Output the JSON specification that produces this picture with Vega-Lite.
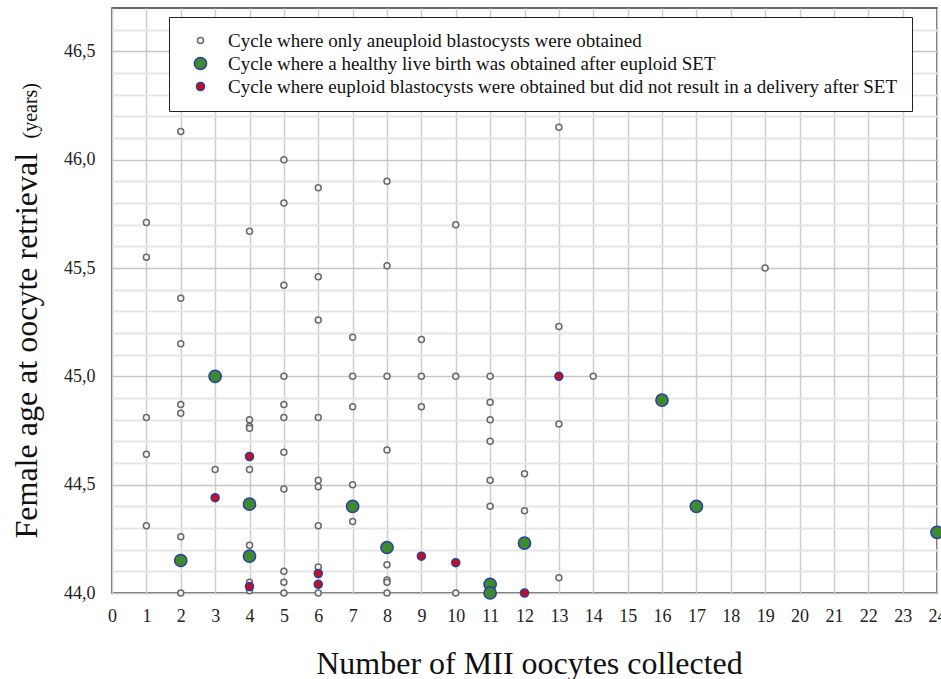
{
  "$schema": "https://vega.github.io/schema/vega-lite/v6.json",
  "width": 825,
  "height": 585,
  "autosize": {"type": "none"},
  "padding": {"left": 112, "top": 8, "right": 4, "bottom": 86},
  "background": "white",
  "config": {
    "view": {"stroke": "#3a3a3a", "strokeWidth": 1.5, "fill": "white"},
    "font": "Liberation Serif"
  },
  "data": {
    "values": [
      {"n": 1, "age": 45.71, "c": "A"}, {"n": 1, "age": 45.55, "c": "A"}, {"n": 1, "age": 44.81, "c": "A"}, {"n": 1, "age": 44.64, "c": "A"}, {"n": 1, "age": 44.31, "c": "A"},
      {"n": 2, "age": 46.13, "c": "A"}, {"n": 2, "age": 45.36, "c": "A"}, {"n": 2, "age": 45.15, "c": "A"}, {"n": 2, "age": 44.87, "c": "A"}, {"n": 2, "age": 44.83, "c": "A"}, {"n": 2, "age": 44.26, "c": "A"}, {"n": 2, "age": 44.0, "c": "A"},
      {"n": 3, "age": 44.57, "c": "A"},
      {"n": 4, "age": 45.67, "c": "A"}, {"n": 4, "age": 44.8, "c": "A"}, {"n": 4, "age": 44.77, "c": "A"}, {"n": 4, "age": 44.76, "c": "A"}, {"n": 4, "age": 44.57, "c": "A"}, {"n": 4, "age": 44.22, "c": "A"}, {"n": 4, "age": 44.05, "c": "A"}, {"n": 4, "age": 44.01, "c": "A"},
      {"n": 5, "age": 46.0, "c": "A"}, {"n": 5, "age": 45.8, "c": "A"}, {"n": 5, "age": 45.42, "c": "A"}, {"n": 5, "age": 45.0, "c": "A"}, {"n": 5, "age": 44.87, "c": "A"}, {"n": 5, "age": 44.81, "c": "A"}, {"n": 5, "age": 44.65, "c": "A"}, {"n": 5, "age": 44.48, "c": "A"}, {"n": 5, "age": 44.1, "c": "A"}, {"n": 5, "age": 44.05, "c": "A"}, {"n": 5, "age": 44.0, "c": "A"},
      {"n": 6, "age": 45.87, "c": "A"}, {"n": 6, "age": 45.46, "c": "A"}, {"n": 6, "age": 45.26, "c": "A"}, {"n": 6, "age": 44.81, "c": "A"}, {"n": 6, "age": 44.52, "c": "A"}, {"n": 6, "age": 44.49, "c": "A"}, {"n": 6, "age": 44.31, "c": "A"}, {"n": 6, "age": 44.12, "c": "A"}, {"n": 6, "age": 44.0, "c": "A"},
      {"n": 7, "age": 45.18, "c": "A"}, {"n": 7, "age": 45.0, "c": "A"}, {"n": 7, "age": 44.86, "c": "A"}, {"n": 7, "age": 44.5, "c": "A"}, {"n": 7, "age": 44.33, "c": "A"},
      {"n": 8, "age": 45.9, "c": "A"}, {"n": 8, "age": 45.51, "c": "A"}, {"n": 8, "age": 45.0, "c": "A"}, {"n": 8, "age": 44.66, "c": "A"}, {"n": 8, "age": 44.13, "c": "A"}, {"n": 8, "age": 44.06, "c": "A"}, {"n": 8, "age": 44.05, "c": "A"}, {"n": 8, "age": 44.0, "c": "A"},
      {"n": 9, "age": 45.17, "c": "A"}, {"n": 9, "age": 45.0, "c": "A"}, {"n": 9, "age": 44.86, "c": "A"},
      {"n": 10, "age": 45.7, "c": "A"}, {"n": 10, "age": 45.0, "c": "A"}, {"n": 10, "age": 44.0, "c": "A"},
      {"n": 11, "age": 45.0, "c": "A"}, {"n": 11, "age": 44.88, "c": "A"}, {"n": 11, "age": 44.8, "c": "A"}, {"n": 11, "age": 44.7, "c": "A"}, {"n": 11, "age": 44.52, "c": "A"}, {"n": 11, "age": 44.4, "c": "A"},
      {"n": 12, "age": 44.55, "c": "A"}, {"n": 12, "age": 44.38, "c": "A"},
      {"n": 13, "age": 46.15, "c": "A"}, {"n": 13, "age": 45.23, "c": "A"}, {"n": 13, "age": 44.78, "c": "A"}, {"n": 13, "age": 44.07, "c": "A"},
      {"n": 14, "age": 45.0, "c": "A"},
      {"n": 19, "age": 45.5, "c": "A"},
      {"n": 2, "age": 44.15, "c": "G"}, {"n": 3, "age": 45.0, "c": "G"}, {"n": 4, "age": 44.41, "c": "G"}, {"n": 4, "age": 44.17, "c": "G"}, {"n": 7, "age": 44.4, "c": "G"}, {"n": 8, "age": 44.21, "c": "G"}, {"n": 11, "age": 44.04, "c": "G"}, {"n": 11, "age": 44.0, "c": "G"}, {"n": 12, "age": 44.23, "c": "G"}, {"n": 16, "age": 44.89, "c": "G"}, {"n": 17, "age": 44.4, "c": "G"}, {"n": 24, "age": 44.28, "c": "G"},
      {"n": 3, "age": 44.44, "c": "R"}, {"n": 4, "age": 44.63, "c": "R"}, {"n": 4, "age": 44.03, "c": "R"}, {"n": 6, "age": 44.09, "c": "R"}, {"n": 6, "age": 44.04, "c": "R"}, {"n": 9, "age": 44.17, "c": "R"}, {"n": 10, "age": 44.14, "c": "R"}, {"n": 12, "age": 44.0, "c": "R"}, {"n": 13, "age": 45.0, "c": "R"}
    ]
  },
  "layer": [
    {
      "mark": {"type": "point", "opacity": 0},
      "encoding": {
        "x": {
          "field": "n", "type": "quantitative",
          "scale": {"domain": [0, 24], "nice": false, "zero": false},
          "axis": {
            "orient": "bottom",
            "values": [0,1,2,3,4,5,6,7,8,9,10,11,12,13,14,15,16,17,18,19,20,21,22,23,24],
            "grid": true, "gridColor": "#cdcdcd", "gridWidth": 1.5,
            "ticks": false, "domain": false,
            "labelFont": "Liberation Serif", "labelFontSize": 18, "labelColor": "#222",
            "labelPadding": 14, "labelFlush": false, "labelOverlap": false,
            "title": "Number of MII oocytes collected",
            "titleFont": "Liberation Serif", "titleFontSize": 32, "titleFontWeight": "normal",
            "titleColor": "#111", "titleBaseline": "alphabetic", "titleY": 80, "titleX": 417
          }
        },
        "y": {
          "field": "age", "type": "quantitative",
          "scale": {"domain": [44, 46.7], "nice": false, "zero": false},
          "axis": {
            "orient": "left",
            "values": [44.1,44.2,44.3,44.4,44.6,44.7,44.8,44.9,45.1,45.2,45.3,45.4,45.6,45.7,45.8,45.9,46.1,46.2,46.3,46.4,46.6],
            "grid": true, "gridColor": "#e6e6e6", "gridWidth": 2,
            "labels": false, "ticks": false, "domain": false,
            "title": "(years)",
            "titleFont": "Liberation Serif", "titleFontSize": 20, "titleFontWeight": "normal",
            "titleColor": "#111", "titleAngle": 270, "titleAlign": "left",
            "titleBaseline": "alphabetic", "titleX": -76, "titleY": 130
          }
        }
      }
    },
    {
      "mark": {"type": "point", "shape": "circle", "filled": true, "strokeWidth": 1.5, "opacity": 1},
      "encoding": {
        "x": {
          "field": "n", "type": "quantitative",
          "scale": {"domain": [0, 24], "nice": false, "zero": false},
          "axis": {
            "orient": "bottom",
            "values": [0,1,2,3,4,5,6,7,8,9,10,11,12,13,14,15,16,17,18,19,20,21,22,23,24],
            "grid": true, "gridColor": "#cdcdcd", "gridWidth": 1.5,
            "ticks": false, "domain": false,
            "labelFont": "Liberation Serif", "labelFontSize": 18, "labelColor": "#222",
            "labelPadding": 14, "labelFlush": false, "labelOverlap": false,
            "title": "Number of MII oocytes collected",
            "titleFont": "Liberation Serif", "titleFontSize": 32, "titleFontWeight": "normal",
            "titleColor": "#111", "titleBaseline": "alphabetic", "titleY": 80, "titleX": 417
          }
        },
        "y": {
          "field": "age", "type": "quantitative",
          "scale": {"domain": [44, 46.7], "nice": false, "zero": false},
          "axis": {
            "orient": "left",
            "values": [44, 44.5, 45, 45.5, 46, 46.5],
            "grid": true, "gridColor": "#c6c6c6", "gridWidth": 1.5,
            "ticks": false, "domain": false,
            "labelFont": "Liberation Serif", "labelFontSize": 18, "labelColor": "#222",
            "labelPadding": 17, "labelFlush": false,
            "labelExpr": "replace(format(datum.value, '.1f'), '.', ',')",
            "title": "Female age at oocyte retrieval",
            "titleFont": "Liberation Serif", "titleFontSize": 32, "titleFontWeight": "normal",
            "titleColor": "#111", "titleAngle": 270, "titleAlign": "left",
            "titleBaseline": "alphabetic", "titleX": -76, "titleY": 530
          }
        },
        "fill": {
          "field": "c", "type": "nominal",
          "scale": {"domain": ["A", "G", "R"], "range": ["#f2f2f2", "#3d8a2f", "#c4101c"]},
          "legend": {
            "orient": "none", "legendX": 57, "legendY": 9, "title": null,
            "padding": 14, "strokeColor": "#222", "fillColor": "white",
            "labelFont": "Liberation Serif", "labelFontSize": 19, "labelColor": "#111",
            "labelOffset": 18, "symbolOffset": 8, "rowPadding": 3, "labelLimit": 900,
            "labelExpr": "datum.value == 'A' ? 'Cycle where only aneuploid blastocysts were obtained' : datum.value == 'G' ? 'Cycle where a healthy live birth was obtained after euploid SET' : 'Cycle where euploid blastocysts were obtained but did not result in a delivery after SET'"
          }
        },
        "stroke": {
          "field": "c", "type": "nominal",
          "scale": {"domain": ["A", "G", "R"], "range": ["#6a6a6a", "#2a3ea6", "#2a3ea6"]},
          "legend": {
            "orient": "none", "legendX": 57, "legendY": 9, "title": null,
            "padding": 14, "strokeColor": "#222", "fillColor": "white",
            "labelFont": "Liberation Serif", "labelFontSize": 19, "labelColor": "#111",
            "labelOffset": 18, "symbolOffset": 8, "rowPadding": 3, "labelLimit": 900,
            "labelExpr": "datum.value == 'A' ? 'Cycle where only aneuploid blastocysts were obtained' : datum.value == 'G' ? 'Cycle where a healthy live birth was obtained after euploid SET' : 'Cycle where euploid blastocysts were obtained but did not result in a delivery after SET'"
          }
        },
        "size": {
          "field": "c", "type": "nominal",
          "scale": {"type": "ordinal", "domain": ["A", "G", "R"], "range": [36, 150, 65]},
          "legend": {
            "orient": "none", "legendX": 57, "legendY": 9, "title": null,
            "padding": 14, "strokeColor": "#222", "fillColor": "white",
            "labelFont": "Liberation Serif", "labelFontSize": 19, "labelColor": "#111",
            "labelOffset": 18, "symbolOffset": 8, "rowPadding": 3, "labelLimit": 900,
            "labelExpr": "datum.value == 'A' ? 'Cycle where only aneuploid blastocysts were obtained' : datum.value == 'G' ? 'Cycle where a healthy live birth was obtained after euploid SET' : 'Cycle where euploid blastocysts were obtained but did not result in a delivery after SET'"
          }
        }
      }
    }
  ],
  "resolve": {"axis": {"y": "independent"}}
}
